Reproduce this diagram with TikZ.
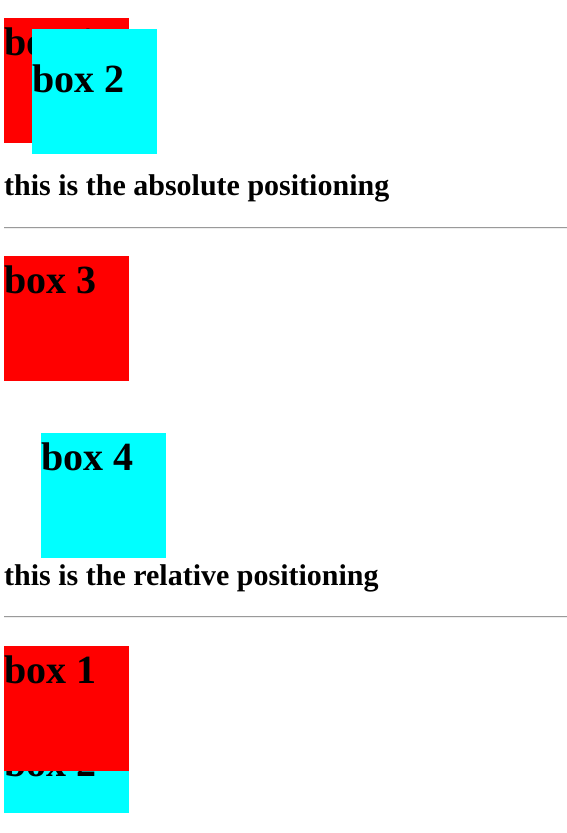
\documentclass[tikz,border=0pt]{standalone}
\usepackage{fontspec}
\setmainfont{Liberation Serif}
\definecolor{boxred}{RGB}{255,0,0}
\definecolor{boxcyan}{RGB}{0,255,255}
\definecolor{hrdark}{RGB}{154,154,154}
\definecolor{hrlight}{RGB}{238,238,238}
\tikzset{
  sq/.style={minimum width=125pt,minimum height=125pt,inner sep=0pt,outer sep=0pt,anchor=north west,draw=none},
  redsq/.style={sq,fill=boxred},
  cyansq/.style={sq,fill=boxcyan},
  boxlabel/.style={anchor=base west,inner sep=0pt,font=\fontsize{40}{48}\selectfont\bfseries},
  caption/.style={anchor=base west,inner sep=0pt,font=\fontsize{30}{36}\selectfont\bfseries},
}
\begin{document}
\begin{tikzpicture}[x=1pt,y=-1pt]
\useasboundingbox[fill=white] (0,0) rectangle (567,833);
% absolute section
\node[redsq] (r1) at (4,18) {};
\node[boxlabel] (t1) at (4,55) {box 1};
\node[cyansq] (c2) at (32,29) {};
\node[boxlabel] (t2) at (32,92) {box 2};
\node[caption] (cap1) at (4,195) {this is the absolute positioning};
% rule 1
\fill[hrdark] (4,226.5) rectangle (567,227.8);
\fill[hrlight] (4,227.8) rectangle (567,229);
% relative section
\node[redsq] (r3) at (4,256) {};
\node[boxlabel] (t3) at (4,293) {box 3};
\node[cyansq] (c4) at (41,433) {};
\node[boxlabel] (t4) at (41,470) {box 4};
\node[caption] (cap2) at (4,585) {this is the relative positioning};
% rule 2
\fill[hrdark] (4,615.5) rectangle (567,616.8);
\fill[hrlight] (4,616.8) rectangle (567,618);
% bottom section
\node[cyansq] (c2b) at (4,688) {};
\node[boxlabel] (t2b) at (4,776) {box 2};
\node[redsq] (r1b) at (4,646) {};
\node[boxlabel] (t1b) at (4,683) {box 1};
\fill[white] (0,813) rectangle (567,833);
\end{tikzpicture}
\end{document}
